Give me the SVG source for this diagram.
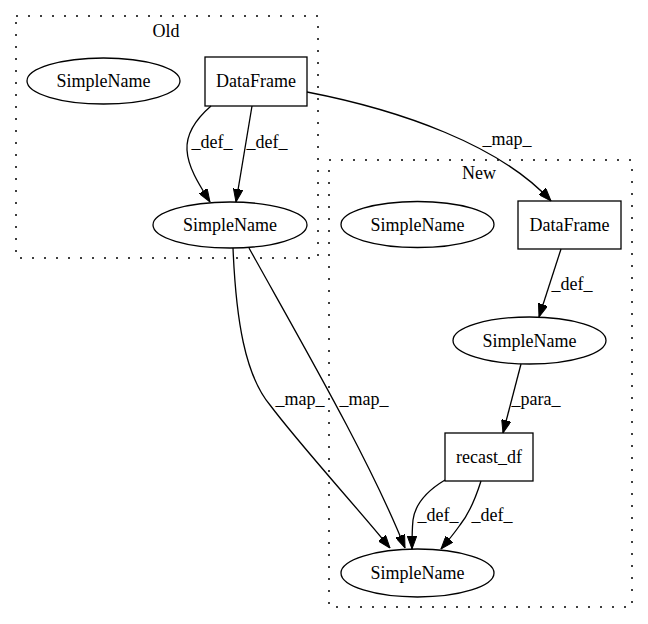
<svg xmlns="http://www.w3.org/2000/svg" width="648" height="624" viewBox="0 0 648 624">
<style>
  text { font-family: "Liberation Serif", "Times New Roman", serif; font-size: 18px; fill: #000; text-anchor: middle; }
  .cluster { fill: none; stroke: #000; stroke-width: 1.5; stroke-dasharray: 2,10; }
  .node { fill: none; stroke: #000; stroke-width: 1.3; }
  .edge { fill: none; stroke: #000; stroke-width: 1.3; marker-end: url(#arrow); }
</style>
<defs>
  <marker id="arrow" viewBox="0 0 13 9.5" refX="13" refY="4.75" markerWidth="13" markerHeight="9.5" markerUnits="userSpaceOnUse" orient="auto">
    <path d="M0,0 L13,4.75 L0,9.5 z" fill="#000" stroke="#000" stroke-width="1"/>
  </marker>
</defs>
<rect width="648" height="624" fill="#fff"/>

<g id="cluster_old">
  <rect class="cluster" x="16" y="16" width="302" height="242"/>
  <text x="166" y="37">Old</text>
</g>
<g id="cluster_new">
  <rect class="cluster" x="329" y="160" width="303" height="447"/>
  <text x="479" y="179">New</text>
</g>

<g id="old_simplename_1">
  <ellipse class="node" cx="103.5" cy="81" rx="76.5" ry="23"/>
  <text x="103.5" y="87">SimpleName</text>
</g>
<g id="old_dataframe">
  <rect class="node" x="205" y="57" width="102" height="49"/>
  <text x="256" y="87">DataFrame</text>
</g>
<g id="old_simplename_2">
  <ellipse class="node" cx="230" cy="225" rx="77" ry="23"/>
  <text x="230" y="231">SimpleName</text>
</g>

<g id="new_simplename_1">
  <ellipse class="node" cx="417.5" cy="224.5" rx="76.5" ry="23"/>
  <text x="417.5" y="230.5">SimpleName</text>
</g>
<g id="new_dataframe">
  <rect class="node" x="518" y="201" width="103" height="48"/>
  <text x="569.5" y="231">DataFrame</text>
</g>
<g id="new_simplename_2">
  <ellipse class="node" cx="529.5" cy="340.5" rx="76.5" ry="23.5"/>
  <text x="529.5" y="346.5">SimpleName</text>
</g>
<g id="new_recast_df">
  <rect class="node" x="445" y="433" width="88" height="48"/>
  <text x="489" y="463">recast_df</text>
</g>
<g id="new_simplename_3">
  <ellipse class="node" cx="417.5" cy="573" rx="76.5" ry="24"/>
  <text x="417.5" y="579">SimpleName</text>
</g>

<g id="connectors">
  <path class="edge" d="M211,106 C196,119 186,133 187,150 C188,168 200,186 210,202"/>
  <text x="212" y="148">_def_</text>
  <path class="edge" d="M252,106 L236,202"/>
  <text x="267" y="148">_def_</text>
  <path class="edge" d="M307,92 C400,110 500,145 551,201"/>
  <text x="507" y="145">_map_</text>
  <path class="edge" d="M233,248 C236,320 245,375 270,405 C300,445 355,505 390,548"/>
  <text x="300" y="405">_map_</text>
  <path class="edge" d="M249,248 C300,340 370,460 405,548"/>
  <text x="364" y="405">_map_</text>
  <path class="edge" d="M561,249 L539,317"/>
  <text x="572" y="290">_def_</text>
  <path class="edge" d="M521,364 L503,433"/>
  <text x="536" y="405">_para_</text>
  <path class="edge" d="M445,480 C425,492 415,505 413,520 C412,530 412,540 412,549"/>
  <text x="438" y="521">_def_</text>
  <path class="edge" d="M481,481 C475,500 468,515 460,525 C453,535 447,542 441,549"/>
  <text x="492" y="521">_def_</text>
</g>
</svg>
